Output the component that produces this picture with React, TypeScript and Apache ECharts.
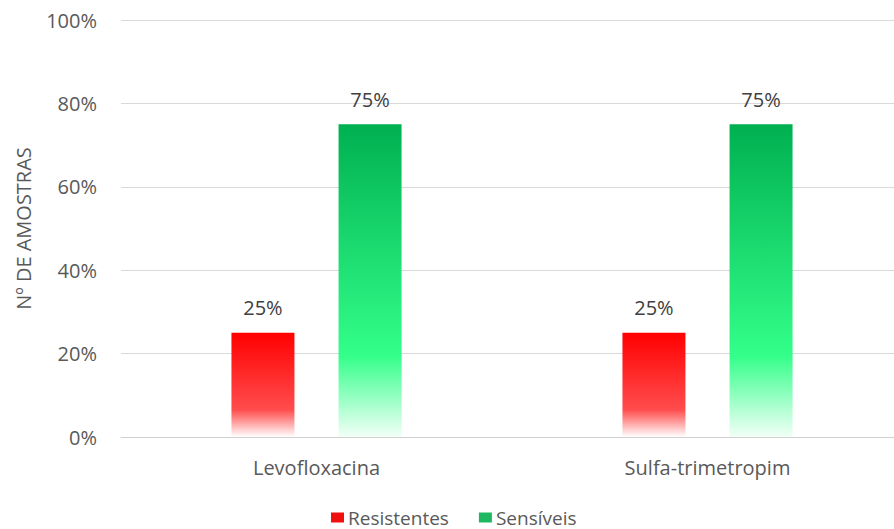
import React, { useEffect, useRef } from "react";
import * as echarts from "echarts";

const categories = ["Levofloxacina", "Sulfa-trimetropim"];
const resistentes = [25, 25];
const sensiveis = [75, 75];
const seriesNames = ["Resistentes", "Sensíveis"];
const yTicks = { min: 0, max: 100, interval: 20 };

const FONT = "Open Sans";
const GRAY = "#595959";

export default function App() {
  const ref = useRef<HTMLDivElement>(null);
  useEffect(() => {
    if (!ref.current) return;
    const chart = echarts.init(ref.current, null, { renderer: "svg" });
    const redGrad = new echarts.graphic.LinearGradient(0, 0, 0, 1, [
      { offset: 0, color: "#FF0000" },
      { offset: 0.74, color: "#FF4D4D" },
      { offset: 1, color: "#FFFFFF" },
    ]);
    const greenGrad = new echarts.graphic.LinearGradient(0, 0, 0, 1, [
      { offset: 0, color: "#00B050" },
      { offset: 0.74, color: "#33FF8A" },
      { offset: 1, color: "#F2FFF7" },
    ]);
    const labelStyle = {
      show: true,
      position: "top" as const,
      distance: 15,
      formatter: (p: any) => p.value + "%",
      color: "#404040",
      fontSize: 20,
      fontFamily: FONT,
    };
    chart.setOption({
      animation: false,
      textStyle: { fontFamily: FONT },
      grid: { left: 121, top: 20, width: 782, height: 417 },
      legend: {
        top: 503,
        left: 326,
        itemWidth: 13,
        itemHeight: 10,
        itemGap: 30,
        icon: "rect",
        textStyle: { color: GRAY, fontSize: 19, fontFamily: FONT, padding: [0, 0, 0, -1] },
        data: [
          { name: seriesNames[0], itemStyle: { color: "#F01010" } },
          { name: seriesNames[1], itemStyle: { color: "#1DB860" } },
        ],
      },
      xAxis: {
        type: "category",
        data: categories,
        axisTick: { show: false },
        axisLine: { lineStyle: { color: "#D0D0D0", width: 1 } },
        axisLabel: { color: GRAY, fontSize: 20, fontFamily: FONT, margin: 20 },
      },
      yAxis: {
        type: "value",
        min: yTicks.min,
        max: yTicks.max,
        interval: yTicks.interval,
        name: "Nº DE AMOSTRAS",
        nameLocation: "middle",
        nameRotate: 90,
        nameGap: 88,
        nameTextStyle: { color: GRAY, fontSize: 20, fontFamily: FONT },
        axisLine: { show: false },
        axisTick: { show: false },
        splitLine: { lineStyle: { color: "#D9D9D9", width: 1 } },
        axisLabel: {
          color: GRAY,
          fontSize: 20,
          fontFamily: FONT,
          margin: 24,
          formatter: (v: number) => v + "%",
        },
      },
      series: [
        {
          name: seriesNames[0],
          type: "bar",
          data: resistentes,
          barWidth: 63,
          barGap: "70%",
          itemStyle: { color: redGrad },
          label: labelStyle,
        },
        {
          name: seriesNames[1],
          type: "bar",
          data: sensiveis,
          barWidth: 63,
          itemStyle: { color: greenGrad },
          label: labelStyle,
        },
      ],
    });
    return () => chart.dispose();
  }, []);
  return (
    <div style={{ width: 894, height: 529, position: "absolute", left: 0, top: 0, overflow: "hidden", background: "#fff" }}>
      <div ref={ref} style={{ width: 903, height: 529 }} />
    </div>
  );
}
